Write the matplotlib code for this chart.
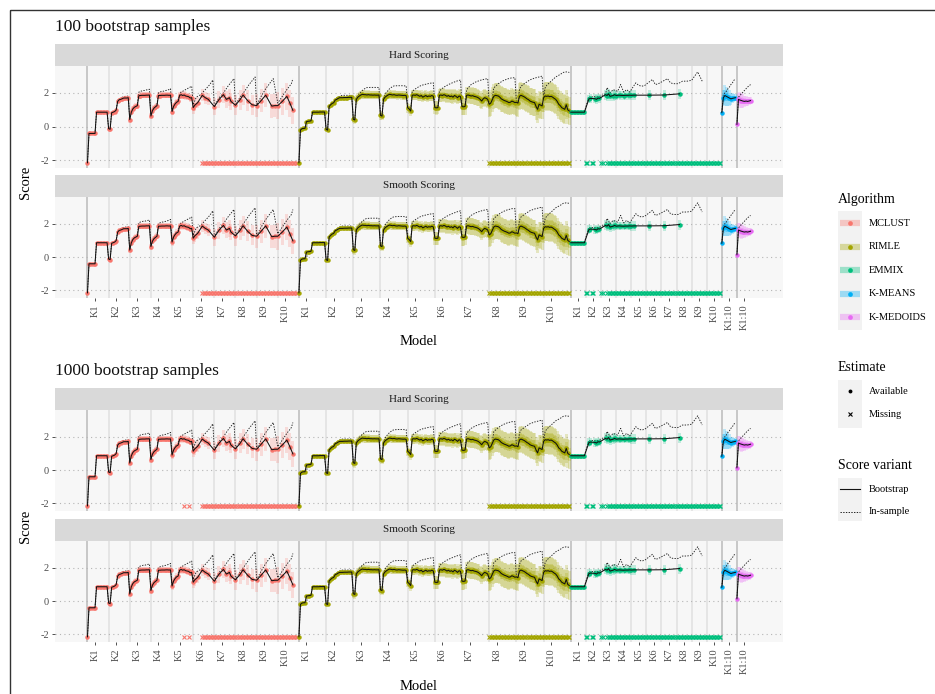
import numpy as np
import matplotlib
matplotlib.use("Agg")
import matplotlib.pyplot as plt
from matplotlib.patches import Rectangle

plt.rcParams['font.family'] = ['Liberation Serif', 'DejaVu Serif']

N = None

algorithms = ["MCLUST", "RIMLE", "EMMIX", "K-MEANS", "K-MEDOIDS"]
colors = ["#F8766D", "#A3A500", "#00BF7D", "#00B0F6", "#E76BF3"]
k_labels = ["K1", "K2", "K3", "K4", "K5", "K6", "K7", "K8", "K9", "K10"]
yticks = [-2, 0, 2]
missing_score = -2.14

# MCLUST: 10 values of K, 14 covariance models each
mclust_boot = [
    [-2.14, -0.4, -0.4, -0.4, -0.4, -0.4, 0.86, 0.86, 0.86, 0.86, 0.86, 0.86, 0.86, 0.86],
    [-0.12, -0.15, 0.83, 0.86, 0.9, 0.99, 1.5, 1.6, 1.62, 1.66, 1.7, 1.7, 1.7, 1.72],
    [0.42, 0.85, 1.05, 1.15, 1.2, 1.25, 1.84, 1.85, 1.86, 1.86, 1.86, 1.87, 1.87, 1.88],
    [0.63, 0.95, 1.1, 1.18, 1.25, 1.85, 1.85, 1.86, 1.86, 1.86, 1.87, 1.87, 1.86, 1.87],
    [0.9, 1.2, 1.35, 1.45, 1.5, 1.85, 1.9, 1.85, 1.88, 1.82, 1.8, 1.78, 1.7, 1.72],
    [1.13, 1.27, N, 1.43, N, N, 1.86, N, 1.72, N, 1.62, N, N, N],
    [1.19, N, N, 1.6, N, N, 1.9, N, 1.62, N, 1.72, 1.5, N, N],
    [1.27, N, N, 1.6, N, 1.88, N, N, 1.55, N, N, 1.3, N, N],
    [1.25, N, N, 1.55, N, N, 1.87, N, N, N, 1.22, N, 1.25, N],
    [1.25, N, N, 1.5, N, N, 1.8, N, 1.4, N, 0.97, N, N, N],
]
mclust_insample = [
    [-2.14, -0.4, -0.4, -0.4, -0.4, -0.4, 0.87, 0.87, 0.87, 0.87, 0.87, 0.87, 0.87, 0.87],
    [-0.12, -0.12, 0.85, 0.88, 0.93, 1.0, 1.55, 1.65, 1.7, 1.75, 1.78, 1.8, 1.8, 1.82],
    [0.44, 0.88, 1.08, 1.2, 1.25, 1.3, 2.05, 2.1, 2.12, 2.15, 2.15, 2.18, 2.2, 2.22],
    [0.65, 0.98, 1.15, 1.22, 1.3, 2.0, 2.05, 2.1, 2.1, 2.12, 2.15, 2.18, 2.2, 2.25],
    [0.92, 1.25, 1.4, 1.5, 1.55, 1.95, 2.05, 2.1, 2.15, 2.2, 2.25, 2.3, 2.35, 2.4],
    [1.3, N, 1.75, N, N, 1.9, N, N, 2.2, N, N, 2.5, N, 2.77],
    [1.22, N, N, 1.7, N, N, 2.0, N, N, 2.4, N, N, N, 2.85],
    [1.3, N, N, 1.75, N, N, 2.1, N, N, 2.5, N, N, N, 2.95],
    [1.28, N, N, 1.8, N, N, 2.25, N, N, N, N, 2.85, N, N],
    [1.4, N, N, 1.8, N, N, 2.2, N, N, 2.55, 2.85, N, N, N],
]
mclust_band_out = [0.05, 0.08, 0.18, 0.18, 0.22, 0.35, 0.5, 0.6, 0.7, 0.8]
mclust_band_in = [0.03, 0.05, 0.1, 0.1, 0.12, 0, 0, 0, 0, 0]
mclust_missing_100 = list(range(76, 140))
mclust_missing_1000 = [64, 67] + list(range(76, 140))

# RIMLE: 10 values of K, 18 models each
rimle_boot = [
    [-2.14, -0.2, -0.12, -0.1, -0.1, 0.3, 0.32, 0.33, 0.35, 0.86, 0.86, 0.86, 0.86, 0.86, 0.87, 0.87, 0.87, 0.87],
    [-0.16, -0.2, 1.2, 1.3, 1.38, 1.42, 1.58, 1.62, 1.68, 1.72, 1.72, 1.72, 1.73, 1.73, 1.73, 1.74, 1.74, 1.74],
    [0.44, 0.4, 1.62, 1.75, 1.82, 1.88, 1.92, 1.9, 1.9, 1.88, 1.9, 1.88, 1.88, 1.87, 1.88, 1.87, 1.87, 1.88],
    [0.67, 0.63, 1.62, 1.75, 1.82, 1.88, 1.92, 1.9, 1.88, 1.9, 1.87, 1.86, 1.88, 1.87, 1.86, 1.85, 1.86, 1.84],
    [1.13, 1.05, 0.93, 1.86, 1.88, 1.86, 1.9, 1.85, 1.8, 1.85, 1.75, 1.8, 1.85, 1.78, 1.82, 1.8, 1.85, 1.8],
    [1.13, 1.12, 1.13, 1.86, 1.88, 1.85, 1.9, 1.86, 1.8, 1.85, 1.78, 1.82, 1.75, 1.85, 1.8, 1.72, 1.82, 1.78],
    [1.19, 1.18, 1.2, 1.86, 1.88, 1.85, 1.82, 1.84, 1.8, 1.78, 1.75, 1.7, 1.62, 1.52, 1.65, 1.72, 1.68, 1.62],
    [1.33, 1.4, 1.6, 1.8, 1.86, 1.84, 1.82, 1.75, 1.65, 1.6, 1.55, 1.52, 1.48, 1.43, 1.45, 1.52, 1.48, 1.43],
    [1.45, 1.4, 1.8, 1.86, 1.82, 1.78, 1.72, 1.65, 1.6, 1.52, 1.48, 1.45, 1.43, 1.2, 1.03, 1.33, 1.28, 1.23],
    [1.72, 1.82, 1.8, 1.82, 1.78, 1.8, 1.75, 1.68, 1.62, 1.5, 1.33, 1.25, 1.13, 1.08, 1.03, 1.3, 1.0, 0.93],
]
rimle_insample = [
    [-2.14, -0.2, -0.1, -0.08, -0.08, -0.06, 0.34, 0.35, 0.36, 0.88, 0.88, 0.88, 0.88, 0.88, 0.88, 0.88, 0.88, 0.88],
    [-0.16, -0.2, 1.25, 1.32, 1.4, 1.45, 1.62, 1.7, 1.75, 1.8, 1.84, 1.86, 1.86, 1.86, 1.86, 1.86, 1.86, 1.86],
    [0.44, 0.4, 1.68, 1.85, 1.95, 2.05, 2.15, 2.22, 2.28, 2.32, 2.32, 2.33, 2.33, 2.33, 2.33, 2.33, 2.33, 2.32],
    [0.67, 0.63, 1.7, 1.9, 2.05, 2.15, 2.25, 2.32, 2.38, 2.42, 2.42, 2.43, 2.43, 2.43, 2.43, 2.43, 2.42, 2.42],
    [1.13, 1.05, 0.95, 2.1, N, N, 2.3, N, N, 2.45, N, N, 2.52, N, N, 2.58, N, 2.6],
    [1.13, 1.12, 1.13, 2.12, N, N, 2.35, N, N, 2.5, N, N, 2.62, N, N, 2.72, N, 2.77],
    [1.19, 1.18, 1.2, 2.2, N, N, 2.5, N, N, 2.65, N, N, 2.75, N, N, 2.82, N, 2.85],
    [1.33, 1.4, 1.6, 2.3, N, N, 2.55, N, N, 2.72, N, N, 2.83, N, N, 2.9, N, 2.9],
    [1.45, 1.4, 2.2, 2.4, N, N, 2.6, N, N, 2.78, N, N, 2.88, N, N, 2.95, N, 3.0],
    [1.72, 2.3, 2.45, N, N, 2.7, N, N, 2.95, N, N, 3.1, N, 3.22, N, 3.25, N, 3.22],
]
rimle_band_out = [0.05, 0.06, 0.25, 0.25, 0.3, 0.4, 0.5, 0.75, 0.8, 0.85]
rimle_band_in = [0.03, 0.04, 0.1, 0.1, 0.12, 0.15, 0.2, 0.3, 0.35, 0.4]
rimle_missing = list(range(126, 180))

# EMMIX: 10 values of K, 10 models each
emmix_boot = [
    [0.86, 0.86, 0.86, 0.86, 0.86, 0.86, 0.86, 0.86, 0.86, 0.86],
    [N, N, 1.65, 1.68, N, N, 1.66, 1.62, 1.7, 1.68],
    [N, N, N, 1.9, 1.85, 1.95, 1.8, N, 1.85, 1.9],
    [1.85, N, 1.87, 1.86, N, 1.85, 1.86, N, 1.86, 1.87],
    [1.86, N, 1.87, N, N, N, N, N, N, N],
    [N, N, 1.87, N, N, N, N, N, N, N],
    [N, N, 1.88, N, N, N, N, N, N, N],
    [N, N, 1.95, N, N, N, N, N, N, N],
    [N, N, N, N, N, N, N, N, N, N],
    [N, N, N, N, N, N, N, N, N, N],
]
emmix_insample = [
    [0.88, N, N, N, N, N, N, N, N, 0.88],
    [N, N, 1.78, 1.72, N, 1.8, N, 1.75, N, 1.8],
    [N, N, N, 1.95, 2.32, N, 2.0, N, 2.2, N],
    [N, 2.1, N, 2.5, N, 2.05, N, 2.2, N, 2.05],
    [N, N, N, 2.6, N, 2.45, N, 2.4, N, 2.45],
    [N, N, N, N, 2.8, N, 2.5, N, 2.55, N],
    [N, N, N, N, 2.85, N, 2.6, N, 2.55, N],
    [N, 2.55, N, N, 2.7, N, N, 2.7, N, N],
    [2.75, N, N, N, 3.25, N, N, 2.7, N, N],
    [N, N, N, N, N, N, N, N, N, N],
]
emmix_band_out = [0.04, 0.25, 0.3, 0.25, 0.3, 0.3, 0.3, 0.3, 0, 0]
emmix_band_in = [0.02, 0.1, 0.12, 0.1, 0.12, 0.12, 0.12, 0.12, 0, 0]
emmix_missing = [10, 11, 14, 15, 20, 21] + list(range(24, 100))

# K-MEANS and K-MEDOIDS: K = 1..10
kmeans_boot = [[0.83, 1.72, 1.85, 1.8, 1.75, 1.7, 1.65, 1.68, 1.7, 1.72]]
kmeans_insample = [[0.85, 1.9, 2.0, 2.1, 2.25, 2.35, 2.5, 2.6, 2.75, 2.85]]
kmeans_band_out = [0.04, 0.45, 0.6, 0.55, 0.5, 0.45, 0.35, 0.3, 0.25, 0.2]
kmeans_band_in = [0.02, 0.25, 0.3, 0.3, 0.25, 0.2, 0.15, 0.12, 0.1, 0.1]

kmedoids_boot = [[0.14, 1.62, 1.58, 1.55, 1.52, 1.5, 1.52, 1.5, 1.52, 1.55]]
kmedoids_insample = [[0.15, 1.75, 1.85, 1.95, 2.05, 2.15, 2.25, 2.35, 2.42, 2.5]]
kmedoids_band_out = [0.03, 0.4, 0.45, 0.45, 0.4, 0.35, 0.3, 0.25, 0.25, 0.2]
kmedoids_band_in = [0.02, 0.2, 0.22, 0.22, 0.2, 0.18, 0.15, 0.12, 0.12, 0.1]

panels = [
    ("100 bootstrap samples", "Hard Scoring", "100"),
    ("100 bootstrap samples", "Smooth Scoring", "100"),
    ("1000 bootstrap samples", "Hard Scoring", "1000"),
    ("1000 bootstrap samples", "Smooth Scoring", "1000"),
]


def flat(groups):
    return np.array([np.nan if v is None else v for g in groups for v in g], dtype=float)


table = [
    dict(boot=mclust_boot, ins=mclust_insample, bo=mclust_band_out, bi=mclust_band_in,
         miss={"100": mclust_missing_100, "1000": mclust_missing_1000}, ticks=k_labels),
    dict(boot=rimle_boot, ins=rimle_insample, bo=rimle_band_out, bi=rimle_band_in,
         miss={"100": rimle_missing, "1000": rimle_missing}, ticks=k_labels),
    dict(boot=emmix_boot, ins=emmix_insample, bo=emmix_band_out, bi=emmix_band_in,
         miss={"100": emmix_missing, "1000": emmix_missing}, ticks=k_labels),
    dict(boot=kmeans_boot, ins=kmeans_insample, bo=kmeans_band_out, bi=kmeans_band_in,
         miss={"100": [], "1000": []}, ticks=["K1:10"]),
    dict(boot=kmedoids_boot, ins=kmedoids_insample, bo=kmedoids_band_out, bi=kmedoids_band_in,
         miss={"100": [], "1000": []}, ticks=["K1:10"]),
]

offset = 0
for t in table:
    t["y"] = flat(t["boot"])
    t["yi"] = flat(t["ins"])
    n = len(t["y"])
    size = len(t["boot"][0])
    t["x"] = offset + np.arange(n)
    t["starts"] = [offset + size * k for k in range(len(t["boot"]))]
    t["tickpos"] = [s + 5 for s in t["starts"]]
    if len(t["bo"]) * size == n:
        t["bo"] = np.repeat(t["bo"], size)
        t["bi"] = np.repeat(t["bi"], size)
    t["bo"] = np.asarray(t["bo"], float)
    t["bi"] = np.asarray(t["bi"], float)
    t["offset"] = offset
    offset += n

W, H = 935, 694
fig = plt.figure(figsize=(W / 100, H / 100), dpi=100)


def box(x0, y0, x1, y1):
    return [x0 / W, 1 - y1 / H, (x1 - x0) / W, (y1 - y0) / H]


L, R = 55, 783
strip_boxes = [(44, 66), (175, 197), (388, 410), (519, 541)]
panel_boxes = [(66, 168), (197, 298), (410, 511), (541, 642)]

for p, (title, scoring, nboot) in enumerate(panels):
    s0, s1 = strip_boxes[p]
    sax = fig.add_axes(box(L, s0, R, s1))
    sax.set_facecolor("#D9D9D9")
    sax.set_xticks([])
    sax.set_yticks([])
    for sp in sax.spines.values():
        sp.set_visible(False)
    sax.text(0.5, 0.5, scoring, ha="center", va="center", fontsize=8, color="#1A1A1A",
             transform=sax.transAxes)

    p0, p1 = panel_boxes[p]
    ax = fig.add_axes(box(L, p0, R, p1))
    ax.set_facecolor("#F7F7F7")
    for sp in ax.spines.values():
        sp.set_visible(False)
    ax.set_xlim(-21.5, offset - 1 + 21.5)
    ax.set_ylim(-2.45, 3.6)

    for yv in yticks:
        ax.axhline(yv, color="#B5B5B5", lw=0.8, ls=(0, (1, 3)), zorder=1)

    for t in table:
        for j, s in enumerate(t["starts"]):
            dark = j == 0
            ax.axvline(s, color="#C4C4C4" if dark else "#E4E4E4", lw=1.3, zorder=0.5)

    for t, c in zip(table, colors):
        x, y = t["x"], t["y"]
        ok = ~np.isnan(y)
        bo, bi = t["bo"], t["bi"]
        m = ok & (bo > 0)
        ax.bar(x[m], 2 * bo[m], bottom=y[m] - bo[m], width=2.0, color=c, alpha=0.22,
               linewidth=0, zorder=2)
        m = ok & (bi > 0)
        ax.bar(x[m], 2 * bi[m], bottom=y[m] - bi[m], width=2.0, color=c, alpha=0.22,
               linewidth=0, zorder=2.1)

        yi = t["yi"]
        oki = ~np.isnan(yi)
        ax.plot(x[oki], yi[oki], color="#222222", lw=0.65, ls=(0, (1.5, 1.5)), zorder=3)

        ax.plot(x[ok], y[ok], "o", color=c, ms=3.2, mew=0, zorder=4)
        ax.plot(x[ok], y[ok], color="#111111", lw=0.75, zorder=5)

        mi = t["offset"] + np.asarray(t["miss"][nboot], dtype=int)
        if len(mi):
            ax.plot(mi, np.full(len(mi), missing_score), "x", color=c, ms=3.4, mew=0.8,
                    zorder=4)

    ax.set_yticks(yticks)
    ax.set_yticklabels([str(v) for v in yticks])
    ax.tick_params(axis="y", length=2.5, width=0.6, color="#333333", labelsize=7.5,
                   labelcolor="#4D4D4D", pad=2)
    if p % 2 == 1:
        pos = [v for t in table for v in t["tickpos"]]
        labs = [v for t in table for v in t["ticks"]]
        ax.set_xticks(pos)
        ax.set_xticklabels(labs, rotation=90)
        ax.tick_params(axis="x", length=2.5, width=0.6, color="#333333", labelsize=7.5,
                       labelcolor="#4D4D4D", pad=2)
    else:
        ax.set_xticks([])

# overlay for titles, legend and frame
lg = fig.add_axes([0, 0, 1, 1])
lg.set_xlim(0, W)
lg.set_ylim(H, 0)
lg.axis("off")
lg.patch.set_alpha(0)
lg.add_patch(Rectangle((10, 10), 940, 700, fill=False, ec="#333333", lw=1.0, clip_on=False))

for yt, ys, ym, txt in [(27, 182, 341, "100 bootstrap samples"),
                        (371, 526, 686, "1000 bootstrap samples")]:
    lg.text(55, yt, txt, fontsize=12.5, va="center", ha="left", color="#111111")
    lg.text(25, ys, "Score", fontsize=10.5, rotation=90, va="center", ha="center")
    lg.text(419, ym, "Model", fontsize=10.5, va="center", ha="center")

# legend: Algorithm
lg.text(838, 199, "Algorithm", fontsize=10, va="center")
lg.add_patch(Rectangle((838, 211), 24, 119, color="#F2F2F2", lw=0))
alg_y = [223, 246.5, 270, 293.5, 317]
for name, c, yy in zip(algorithms, colors, alg_y):
    lg.plot([840, 860], [yy, yy], color=c, alpha=0.35, lw=4.5, solid_capstyle="butt")
    lg.plot(850, yy, "o", color=c, ms=3.4, mew=0)
    lg.text(869, yy, name, fontsize=7.5, va="center")

# legend: Estimate
lg.text(838, 367, "Estimate", fontsize=10, va="center")
lg.add_patch(Rectangle((838, 380), 24, 48, color="#F2F2F2", lw=0))
lg.plot(850, 391, "o", color="black", ms=2.8, mew=0)
lg.text(869, 391, "Available", fontsize=7.5, va="center")
lg.plot(850, 414, "x", color="black", ms=3.4, mew=0.8)
lg.text(869, 414, "Missing", fontsize=7.5, va="center")

# legend: Score variant
lg.text(838, 465, "Score variant", fontsize=10, va="center")
lg.add_patch(Rectangle((838, 478), 24, 43, color="#F2F2F2", lw=0))
lg.plot([840, 860], [489, 489], color="#111111", lw=0.8)
lg.text(869, 489, "Bootstrap", fontsize=7.5, va="center")
lg.plot([840, 860], [512, 512], color="#111111", lw=0.65, ls=(0, (1.5, 1.5)))
lg.text(869, 512, "In-sample", fontsize=7.5, va="center")

fig.savefig("out.png", dpi=100)
